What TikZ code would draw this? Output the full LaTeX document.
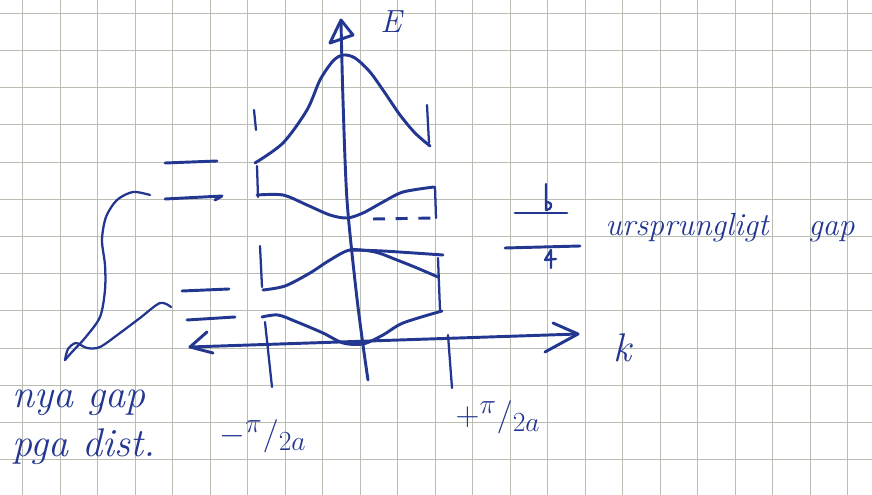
\documentclass[tikz,border=0pt]{standalone}
\usetikzlibrary{arrows.meta}
\definecolor{ink}{RGB}{35,55,145}
\definecolor{gridc}{RGB}{185,189,178}
\begin{document}
\begin{tikzpicture}[x=0.75pt,y=-0.75pt,
  ink/.style={draw=ink,line width=2.2pt,line cap=round,line join=round},
  thinink/.style={draw=ink,line width=1.7pt,line cap=round,line join=round},
  hand/.style={text=ink,font=\fontsize{24}{28}\selectfont\itshape,inner sep=0pt},
  gridline/.style={draw=gridc,line width=0.6pt}]
\useasboundingbox (0,0) rectangle (872,495);
\fill[white] (0,0) rectangle (872,495);
% grid paper
\foreach \i in {0,...,22} \draw[gridline] ({22.7+37.5*\i},0) -- ({22.7+37.5*\i},495);
\foreach \j in {0,...,12} \draw[gridline] (0,{13.3+37.2*\j}) -- (872,{13.3+37.2*\j});

% E axis
\coordinate (Etip) at (341,20);
\coordinate (Ebot) at (368,380);
\draw[ink] plot[smooth] coordinates {(341,22) (343,100) (347,200) (356,290) (363,345) (368,380)};
\draw[ink] (Etip) -- (330,43) -- (353,35) -- cycle;
\node[hand,anchor=base west] (Elab) at (380,33) {E};

% k axis
\coordinate (kl) at (190,347);
\coordinate (kr) at (578,334);
\draw[ink] (kl) -- (kr);
\draw[ink] (207,332) -- (kl) -- (213,353);
\draw[ink] (553,323) -- (kr) -- (545,352);
\node[hand,font=\fontsize{30}{34}\selectfont\itshape,anchor=base west] (klab) at (613,362) {k};

% zone boundaries
\draw[thinink] (254,110) -- (256,130);
\draw[thinink] (257,166) -- (258,197);
\draw[thinink] (260,246) -- (262,287);
\draw[thinink] (265,322) -- (272,387);
\draw[thinink] (427,105) -- (429,143);
\draw[thinink] (435,187) -- (436,218);
\draw[thinink] (438,258) -- (440,310);
\draw[thinink] (448,335) -- (452,388);

% bands
\draw[ink] plot[smooth] coordinates {(255,163) (283,143) (307,110) (320,80) (333,61) (343,55) (355,58) (370,72) (385,93) (400,115) (415,133) (430,146)};
\draw[ink] plot[smooth] coordinates {(257,195) (283,195) (307,205) (330,215) (347,218) (363,213) (383,202) (403,192) (434,187)};
\draw[ink,line cap=butt,dash pattern=on 9pt off 8pt] (373,219) -- (435,218);
\draw[ink] plot[smooth] coordinates {(263,290) (285,286) (310,273) (330,260) (350,250) (375,252) (397,260) (417,268) (438,277)};
\draw[ink] plot[smooth] coordinates {(350,250) (383,251) (443,255)};
\draw[ink] plot[smooth] coordinates {(262,317) (278,315) (297,322) (323,333) (343,343) (363,344) (383,335) (403,323) (442,311)};

% levels on the left
\draw[ink] (165,163) -- (217,161);
\draw[ink] (165,199) -- (222,196) -- (215,200);
\draw[ink] (182,291) -- (229,289);
\draw[ink] (187,320) -- (235,317);

% original gap marker
\draw[ink] (515,213) -- (567,213);
\draw[ink] (505,248) -- (580,246);
\draw[thinink] (546,184) -- (546,210) .. controls (552,210) and (553,203) .. (548,202);
\draw[thinink] (551,268) -- (551,250) -- (545,260) -- (556,259);
\node[hand,anchor=base west] (orig) at (605,236) {ursprungligt};
\node[hand,anchor=base west] (gap) at (808,236) {gap};

% connector to new gap
\draw[thinink] plot[smooth] coordinates {(150,195) (133,192) (117,200) (106,217) (102,240) (105,265) (105,290) (100,317) (85,338) (72,352) (65,360)};
\draw[thinink] plot[smooth] coordinates {(65,360) (68,349) (76,343) (87,348) (100,347) (120,333) (140,318) (160,303) (171,307)};
\node[hand,font=\fontsize{30}{34}\selectfont\itshape,anchor=base west] (nya) at (12,408) {nya gap};
\node[hand,font=\fontsize{30}{34}\selectfont\itshape,anchor=base west] (pga) at (12,457) {pga dist.};

% zone boundary labels
\node[hand,font=\fontsize{30}{34}\selectfont] (mpi) at (263,436) {$-{}^{\pi}/_{2a}$};
\node[hand,font=\fontsize{30}{34}\selectfont] (ppi) at (498,417) {$+{}^{\pi}/_{2a}$};
\end{tikzpicture}
\end{document}
